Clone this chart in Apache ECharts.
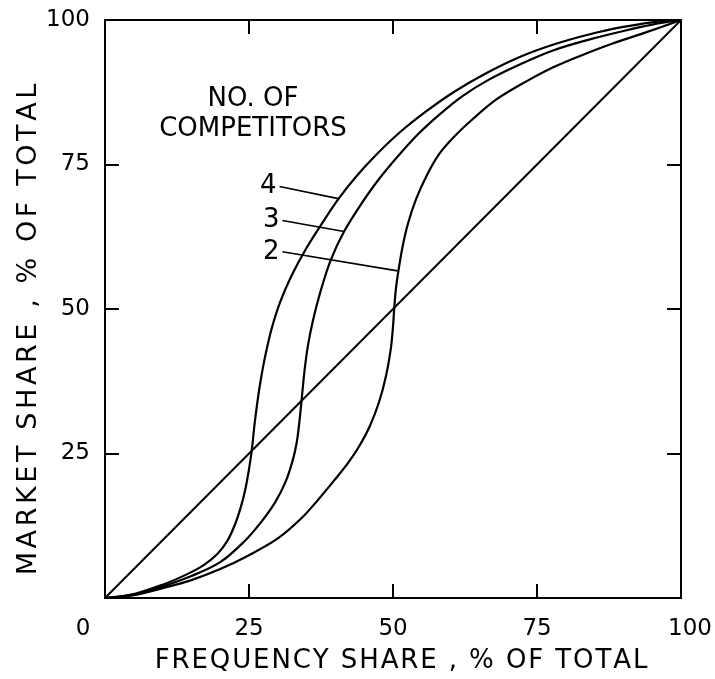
<!DOCTYPE html>
<html>
<head>
<meta charset="utf-8">
<script src="https://cdn.jsdelivr.net/npm/echarts@6/dist/echarts.min.js"></script>
<style>
html,body{margin:0;padding:0;background:#fff;}
#chart{width:715px;height:679px;}
</style>
</head>
<body>
<div id="chart"></div>
<script>
// ---- data ----
const xTicks = [0, 25, 50, 75, 100];
const yTicks = [0, 25, 50, 75, 100];
const xTitle = 'FREQUENCY SHARE , % OF TOTAL';
const yTitle = 'MARKET SHARE , % OF TOTAL';
const legendTitle = 'NO. OF\nCOMPETITORS';

const diagonal = [[0, 0], [100, 100]];

const curve2 = [[0,0],[5,0.5],[10,1.7],[15,3.1],[20,5],[25,7.4],[30,10.3],[34,13.7],[37,17],[40,20.6],[42.3,23.5],[44.1,26.2],[46,29.8],[47.6,34],[48.8,38.5],[49.6,43],[50,47],[50.2,50],[50.5,53.5],[51,57],[51.7,61],[52.6,64.8],[54,69],[55.9,73.2],[58,76.8],[60.6,79.8],[64,83],[68,86.3],[73,89.3],[78,91.9],[83,94],[88,95.9],[94,97.9],[100,100]];

const curve3 = [[0,0],[5,0.6],[10,2],[15,3.8],[20,6.2],[24,9.6],[27,13],[29.5,16.5],[31.3,20],[32.5,23.5],[33.3,27],[33.8,31],[34.2,35],[34.6,39],[35.2,43.5],[36.1,48],[37.4,53],[39.2,58.5],[41.5,63.4],[44.3,67.9],[47.5,72.4],[51,76.6],[54.5,80.4],[58,83.6],[62,86.8],[66.5,89.6],[72,92.3],[78,94.8],[84,96.6],[90,98.1],[95,99.2],[100,100]];

const curve4 = [[0,0],[5,0.7],[10,2.3],[14,4],[17,5.6],[19.5,7.6],[21.3,10],[22.6,12.8],[23.6,15.8],[24.4,19],[25,22.3],[25.5,25.7],[25.9,29.5],[26.4,33.5],[27,37.5],[27.8,41.8],[28.9,46.5],[30.4,51.2],[32.4,55.8],[35,60.6],[37.8,65],[40.5,69],[43.5,72.8],[47,76.6],[51,80.4],[55.5,84],[60.5,87.5],[66,90.7],[72,93.6],[78,95.8],[84,97.5],[90,98.8],[95,99.6],[100,100]];

const curveNames = ['4', '3', '2'];
const leader4 = [[30.3, 71.2], [40.5, 69.1]];
const leader3 = [[30.8, 65.3], [41.5, 63.4]];
const leader2 = [[30.8, 59.9], [50.8, 56.6]];

// ---- chart ----
const FONT = 'DejaVu Sans';
const INK = '#000';
const chart = echarts.init(document.getElementById('chart'), null, {renderer: 'canvas'});

function spaced(s) {
  return s.split('').map(ch => '{s|' + ch + '}').join('');
}
function spacedRich(size, ls) {
  return {s: {fontFamily: FONT, fontSize: size, color: INK, padding: [0, ls / 2, 0, ls / 2]}};
}

function axisBase(pos, showLabel) {
  return {
    type: 'value', min: 0, max: 100, interval: 25, position: pos,
    axisLine: {show: true, onZero: false, lineStyle: {color: INK, width: 2}},
    axisTick: {show: true, inside: true, length: 14, lineStyle: {color: INK, width: 2}},
    splitLine: {show: false},
    axisLabel: {show: showLabel}
  };
}

const xBottom = Object.assign(axisBase('bottom', true), {
  axisLabel: {
    show: true, color: INK, fontFamily: FONT, fontSize: 23, margin: 20,
    formatter: v => v === 0 ? '{z|0}' : (v === 100 ? '{r|100}' : String(v)),
    rich: {
      z: {fontFamily: FONT, fontSize: 23, color: INK, padding: [0, 44, 0, 0]},
      r: {fontFamily: FONT, fontSize: 23, color: INK, padding: [0, 0, 0, 18]}
    }
  },
  name: spaced(xTitle), nameLocation: 'middle', nameGap: 50, nameMoveOverlap: false,
  nameTextStyle: {color: INK, fontFamily: FONT, fontSize: 26, padding: [0, 0, 0, 16], rich: spacedRich(26, 1.9)}
});
const xTop = axisBase('top', false);
const yLeft = Object.assign(axisBase('left', true), {
  axisLabel: {
    show: true, color: INK, fontFamily: FONT, fontSize: 23, margin: 15,
    formatter: v => v === 0 ? '' : String(v)
  },
  name: spaced(yTitle), nameLocation: 'middle', nameGap: 63, nameRotate: 90, nameMoveOverlap: false,
  nameTextStyle: {color: INK, fontFamily: FONT, fontSize: 27, padding: [0, 41, 0, 0], rich: spacedRich(27, 3.6)}
});
const yRight = axisBase('right', false);

function curveSeries(data) {
  return {
    type: 'line', data: data, xAxisIndex: 0, yAxisIndex: 0,
    showSymbol: false, symbol: 'none', smooth: 0.35, silent: true,
    lineStyle: {color: INK, width: 2.2}
  };
}
function leaderSeries(data) {
  return {
    type: 'line', data: data, showSymbol: false, symbol: 'none', silent: true,
    lineStyle: {color: INK, width: 1.6}
  };
}

const labelPts = [leader4[0], leader3[0], leader2[0]].map((p, i) => ({value: p, name: curveNames[i]}));

chart.setOption({
  animation: false,
  backgroundColor: '#fff',
  grid: {left: 105, right: 32, top: 20, bottom: 80, containLabel: false},
  xAxis: [xBottom, xTop],
  yAxis: [yLeft, yRight],
  graphic: [{
    type: 'text', left: 155, top: 84,
    style: {text: legendTitle, fill: INK, font: '26px "' + FONT + '"', textAlign: 'center', lineHeight: 30, width: 196},
  }],
  series: [
    {type: 'line', data: diagonal, symbol: 'none', silent: true, lineStyle: {color: INK, width: 2}},
    curveSeries(curve4),
    curveSeries(curve3),
    curveSeries(curve2),
    leaderSeries(leader4),
    leaderSeries(leader3),
    leaderSeries(leader2),
    {
      type: 'scatter', data: labelPts, symbolSize: 0, silent: true,
      itemStyle: {color: INK, opacity: 1},
      label: {show: true, position: 'left', distance: 3, formatter: p => p.name,
              color: INK, opacity: 1, textBorderWidth: 0, fontFamily: FONT, fontSize: 26}
    }
  ]
});
</script>
</body>
</html>
